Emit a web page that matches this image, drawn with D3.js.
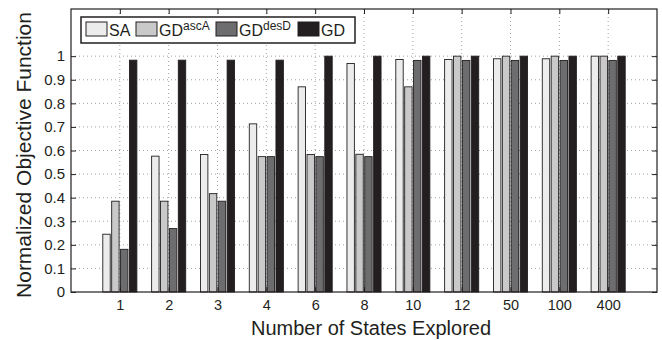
<!DOCTYPE html>
<html>
<head>
<meta charset="utf-8">
<script src="https://cdn.jsdelivr.net/npm/d3@7"></script>
<style>
  body { margin: 0; background: #fff; }
  text { font-family: "Liberation Sans", Arial, sans-serif; fill: #231f20; }
</style>
</head>
<body>
<div id="chart"></div>
<script>
// data
const categories = ['1', '2', '3', '4', '6', '8', '10', '12', '50', '100', '400'];
const seriesNames = ['SA', 'GDascA', 'GDdesD', 'GD'];
const saValues     = [0.245, 0.576, 0.583, 0.713, 0.870, 0.969, 0.986, 0.986, 0.989, 0.989, 1.0];
const gdAscAValues = [0.385, 0.385, 0.417, 0.574, 0.583, 0.584, 0.870, 1.0, 1.0, 1.0, 1.0];
const gdDesDValues = [0.181, 0.269, 0.385, 0.574, 0.574, 0.574, 0.982, 0.982, 0.982, 0.982, 0.982];
const gdValues     = [0.983, 0.983, 0.983, 0.983, 1.0, 1.0, 1.0, 1.0, 1.0, 1.0, 1.0];
const yTicks = [0, 0.1, 0.2, 0.3, 0.4, 0.5, 0.6, 0.7, 0.8, 0.9, 1];

const series = [saValues, gdAscAValues, gdDesDValues, gdValues];
const colors = ['#ececec', '#c9c9c9', '#6d6d6f', '#231f20'];

const W = 662, H = 340;
const margin = { top: 9, right: 5, bottom: 48, left: 71 };
const width = W - margin.left - margin.right;
const height = H - margin.top - margin.bottom;

const svg = d3.select('#chart')
  .append('svg')
  .attr('width', W)
  .attr('height', H)
  .append('g')
  .attr('transform', `translate(${margin.left},${margin.top})`);

// group i sits at position i+1 on a 0..12 axis (MATLAB bar style)
const x = d3.scaleLinear().domain([0, categories.length + 1]).range([0, width]);
const y = d3.scaleLinear().domain([0, 1.2]).range([height, 0]);
const pitch = 0.182;
const barW = x(0.152) - x(0);

// grid lines
svg.append('g')
  .selectAll('line')
  .data(yTicks.slice(1))
  .join('line')
  .attr('x1', 0).attr('x2', width)
  .attr('y1', d => y(d)).attr('y2', d => y(d))
  .attr('stroke', '#8a8a8a')
  .attr('stroke-width', 0.8)
  .attr('stroke-dasharray', '1,3');

svg.append('g')
  .selectAll('line')
  .data(categories)
  .join('line')
  .attr('x1', (d, i) => x(i + 1)).attr('x2', (d, i) => x(i + 1))
  .attr('y1', 0).attr('y2', height)
  .attr('stroke', '#8a8a8a')
  .attr('stroke-width', 0.8)
  .attr('stroke-dasharray', '1,3');

// bars
series.forEach((vals, j) => {
  svg.append('g')
    .selectAll('rect')
    .data(vals)
    .join('rect')
    .attr('x', (d, i) => x(i + 1 + (j - 1.5) * pitch) - barW / 2)
    .attr('y', d => y(d))
    .attr('width', barW)
    .attr('height', d => y(0) - y(d))
    .attr('fill', colors[j])
    .attr('stroke', '#231f20')
    .attr('stroke-width', 0.9);
});

// axes with inward ticks
const tickFmt = d => d3.format('')(d);
const xTickVals = categories.map((c, i) => i + 1);

svg.append('g')
  .attr('transform', `translate(0,${height})`)
  .call(d3.axisBottom(x).tickValues(xTickVals).tickSizeInner(-5).tickSizeOuter(0).tickPadding(8)
    .tickFormat((d, i) => categories[i]))
  .call(g => g.select('.domain').remove())
  .selectAll('text').style('font-size', '14.5px');

svg.append('g')
  .call(d3.axisTop(x).tickValues(xTickVals).tickSizeInner(-5).tickSizeOuter(0).tickFormat(''))
  .call(g => g.select('.domain').remove());

svg.append('g')
  .call(d3.axisLeft(y).tickValues(yTicks).tickSizeInner(-5).tickSizeOuter(0).tickPadding(6)
    .tickFormat(tickFmt))
  .call(g => g.select('.domain').remove())
  .selectAll('text').style('font-size', '15px');

svg.append('g')
  .attr('transform', `translate(${width},0)`)
  .call(d3.axisRight(y).tickValues(yTicks).tickSizeInner(-5).tickSizeOuter(0).tickFormat(''))
  .call(g => g.select('.domain').remove());

svg.selectAll('.tick line').attr('stroke', '#231f20');

// frame
svg.append('rect')
  .attr('width', width)
  .attr('height', height)
  .attr('fill', 'none')
  .attr('stroke', '#231f20')
  .attr('stroke-width', 1.2);

// axis titles
svg.append('text')
  .attr('x', 300)
  .attr('y', height + 43)
  .attr('text-anchor', 'middle')
  .style('font-size', '20px')
  .text('Number of States Explored');

svg.append('text')
  .attr('transform', 'rotate(-90)')
  .attr('x', -146)
  .attr('y', -40)
  .attr('text-anchor', 'middle')
  .style('font-size', '21px')
  .text('Normalized Objective Function');

// legend
const legend = svg.append('g').attr('transform', 'translate(10,8)');
legend.append('rect')
  .attr('width', 274)
  .attr('height', 26)
  .attr('fill', '#fff')
  .attr('stroke', '#231f20')
  .attr('stroke-width', 1.5);

const legendX = [5, 55, 135, 217];
const labels = [['SA', ''], ['GD', 'ascA'], ['GD', 'desD'], ['GD', '']];
seriesNames.forEach((name, j) => {
  const g = legend.append('g').attr('transform', `translate(${legendX[j]},5)`);
  g.append('rect')
    .attr('width', 21)
    .attr('height', 14)
    .attr('fill', colors[j])
    .attr('stroke', '#231f20')
    .attr('stroke-width', 1);
  const t = g.append('text')
    .attr('x', 23)
    .attr('y', 14)
    .style('font-size', '16px');
  t.append('tspan').text(labels[j][0]);
  if (labels[j][1]) {
    t.append('tspan')
      .attr('dy', -6)
      .style('font-size', '12px')
      .text(labels[j][1]);
  }
});
</script>
</body>
</html>
